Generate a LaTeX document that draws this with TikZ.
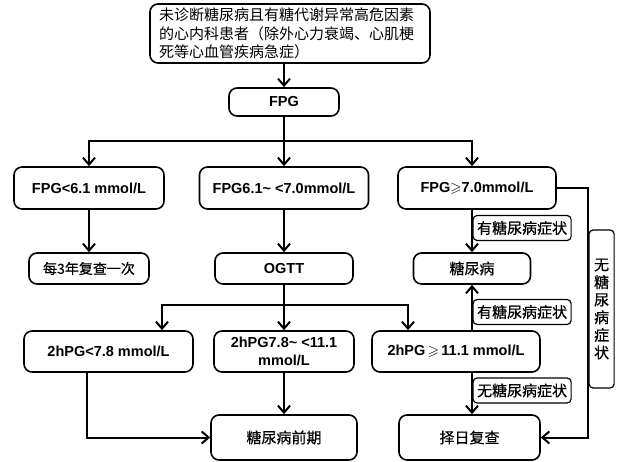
\documentclass[tikz,border=0pt]{standalone}
\usepackage{amssymb}
\usepackage{fontspec}
\setmainfont{Liberation Sans}
\newfontfamily\cjk{Noto Sans CJK SC}
\newfontfamily\cjkb[FakeBold=0.6]{Noto Sans CJK SC}
\usetikzlibrary{arrows.meta,positioning}

\begin{document}
\begin{tikzpicture}[x=1pt,y=-1pt,
  box/.style={draw,line width=1.6pt,rounded corners=8pt,align=center,inner sep=0pt,font=\fontsize{14.5}{18}\selectfont\bfseries},
  cbox/.style={box,font=\fontsize{15}{18}\selectfont\cjkb},
  tag/.style={draw,fill=white,line width=1.2pt,rounded corners=4pt,inner sep=0pt,anchor=west,minimum height=25pt,minimum width=98pt,font=\fontsize{15}{17.6}\selectfont\cjkb},
  line/.style={line width=2pt},
  arr/.style={line,-{Straight Barb[length=7pt,width=12pt]}}]
\useasboundingbox (0,0) rectangle (618,462);
\node[cbox,align=left,text width=262pt,minimum width=280pt,minimum height=59pt,font=\fontsize{15}{18.5}\selectfont\cjk] (top) at (290,33.5) {未诊断糖尿病且有糖代谢异常高危因素\\的心内科患者（除外心力衰竭、心肌梗\\死等心血管疾病急症）};
\node[box,minimum width=110pt,minimum height=28pt] (fpg) at (284,102) {FPG};
\node[box,minimum width=150pt,minimum height=42pt] (f1) at (89,188) {FPG<6.1 mmol/L};
\node[box,minimum width=169pt,minimum height=42pt] (f2) at (284,188) {FPG6.1\textasciitilde{} <7.0mmol/L};
\node[box,minimum width=158pt,minimum height=42pt] (f3) at (477,188) {FPG$\geqslant$7.0mmol/L};
\node[cbox,minimum width=120pt,minimum height=31pt,font=\fontsize{14}{18}\selectfont\cjkb] (once) at (89,268.5) {每3年复查一次};
\node[box,minimum width=138pt,minimum height=31pt] (ogtt) at (284,268.5) {OGTT};
\node[cbox,minimum width=117pt,minimum height=31pt] (dm) at (472,268.5) {糖尿病};
\node[box,minimum width=169pt,minimum height=41pt] (g1) at (108.5,351.5) {2hPG<7.8 mmol/L};
\node[box,minimum width=140pt,minimum height=41pt] (g2) at (284,351.5) {2hPG7.8\textasciitilde{} <11.1\\mmol/L};
\node[box,minimum width=168pt,minimum height=41pt] (g3) at (456,351.5) {2hPG$\,\geqslant\,$11.1 mmol/L};
\node[cbox,minimum width=146pt,minimum height=45pt] (pre) at (284,437.5) {糖尿病前期};
\node[cbox,minimum width=141pt,minimum height=45pt] (redo) at (469.5,437.5) {择日复查};
\coordinate (s1) at (284,141);
\coordinate (s2) at (284,305);
\coordinate (rt) at (588,0);
\draw[arr] (top.south -| fpg) -- (fpg);
\draw[arr] (fpg) -- (f2);
\draw[arr] (s1) -| (f1);
\draw[arr] (s1) -| (f3.north -| dm);
\draw[arr] (f1) -- (once);
\draw[arr] (f2) -- (ogtt);
\draw[arr] (f3.south -| dm) -- (dm);
\draw[arr] (ogtt) -- (g2);
\draw[arr] (s2) -| ([xshift=53.5pt]g1.north);
\draw[arr] (s2) -| ([xshift=-48pt]g3.north);
\draw[arr] ([xshift=-21.5pt]g1.south) |- (pre);
\draw[arr] (g2) -- (pre);
\draw[arr] (g3.north -| dm) -- (dm);
\draw[arr] (g3.south -| dm) -- (redo.north -| dm);
\draw[arr] (f3.east) -| (rt |- redo) -- (redo);
\node[tag] (t1) at (472.5,228) {有糖尿病症状};
\node[tag] (t2) at (472.5,312) {有糖尿病症状};
\node[tag] (t3) at (472.5,390.5) {无糖尿病症状};
\node[tag,align=center,text width=15pt,minimum width=25pt,minimum height=158pt] (t4) at (588.5,309) {无\\糖\\尿\\病\\症\\状};
\end{tikzpicture}
\end{document}
